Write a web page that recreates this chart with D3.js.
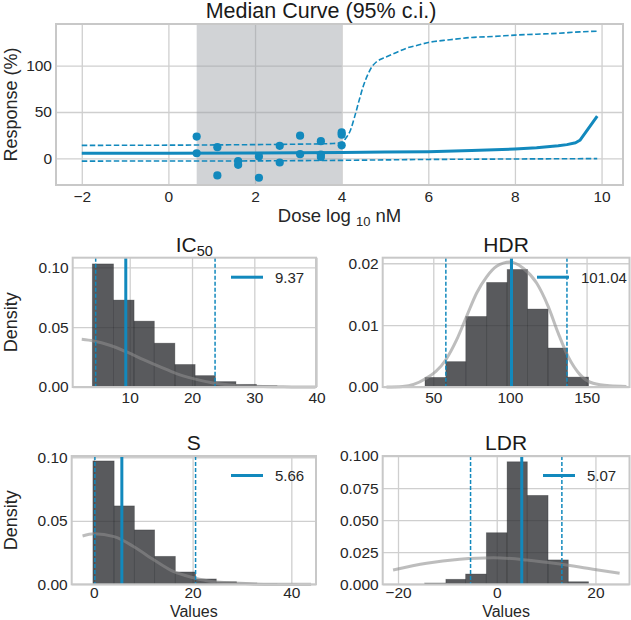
<!DOCTYPE html>
<html><head><meta charset="utf-8">
<script src="https://cdn.jsdelivr.net/npm/d3@7"></script>
<style>body{margin:0;background:#fff}svg{display:block;font-family:"Liberation Sans",Arial,Helvetica,sans-serif}</style>
</head><body><svg id="c" width="631" height="620"></svg>
<script>
// ---------- Top chart data ----------
const doseTicks = [-2, 0, 2, 4, 6, 8, 10];
const respTicks = [0, 50, 100];
const pointDose = [0.653, 0.653, 1.13, 1.13, 1.61, 1.61, 2.09, 2.09, 2.57, 2.57, 3.04, 3.04, 3.52, 3.52, 3.52, 4.0, 4.0, 4.0];
const pointResp = [23.5, 5.5, 12, -18.5, -3, -7, 2, -21, 13.5, -4.5, 24.5, 4.5, 18.5, 4, 1.5, 28, 25.5, 14];
const doseSpan = [0.653, 4.0];
const medianX = [-2, 0, 2, 4, 5, 6, 7, 8, 8.5, 9, 9.2, 9.4, 9.5, 9.9];
const medianY = [5.5, 5.6, 5.8, 6.2, 6.7, 7.2, 8.4, 10, 11.3, 13.5, 14.8, 16.8, 19.5, 45.5];
const upperX = [-2, 0, 2, 3, 3.8, 4.0, 4.1, 4.2, 4.3, 4.4, 4.5, 4.6, 4.7, 4.8, 4.9, 5.0, 5.25, 5.5, 5.75, 6, 6.5, 7, 7.5, 8, 8.5, 9, 9.5, 9.9];
const upperY = [14, 14.2, 14.8, 15.3, 16, 17, 22, 30, 45, 62, 78, 90, 99, 104, 107, 109, 114, 119, 122, 125, 128, 130.5, 131.5, 133, 134, 135, 136.5, 137.2];
const lowerX = [-2, 2, 4, 6, 8, 9.9];
const lowerY = [-3, -2.8, -2.2, -1.2, -0.7, -0.3];

// ---------- Histogram panels data ----------
const panelTitles = ["IC", "HDR", "S", "LDR"];
const ic50Ticks = [10, 20, 30, 40];
const ic50YTicks = [0, 0.05, 0.10];
const ic50Edges = [4.0, 7.4, 10.7, 13.95, 17.25, 20.5, 23.75, 27.05, 30.35, 33.65, 36.95];
const ic50Density = [0.1028, 0.0726, 0.055, 0.0366, 0.0188, 0.0095, 0.0045, 0.0022, 0.001, 0.0005];
const ic50KdeX = [2.3, 4.2, 6.8, 9.5, 12.2, 14.9, 17.5, 20.2, 23.4, 26.6, 29.8, 33.1, 36, 39.8];
const ic50KdeY = [0.0399, 0.0385, 0.0349, 0.0293, 0.0229, 0.0168, 0.0112, 0.007, 0.0034, 0.0014, 0.0006, 0.0002, 0.0001, 0.0];
const ic50Lines = [4.54, 9.37, 23.7];
const ic50Legend = "9.37";

const hdrTicks = [50, 100, 150];
const hdrYTicks = [0, 0.01, 0.02];
const hdrEdges = [44.6, 58.2, 71.2, 84.8, 98.2, 111.5, 124.9, 137.6, 151.3];
const hdrDensity = [0.00155, 0.0041, 0.0114, 0.0169, 0.019, 0.0126, 0.0063, 0.0016];
const hdrKdeX = [19.5, 30, 44.6, 58.2, 65.2, 71.7, 78.3, 84.8, 91.3, 100, 108.7, 117.4, 125, 131.5, 138, 145.7, 154.3, 165, 176];
const hdrKdeY = [0, 0.0001, 0.0013, 0.0044, 0.0076, 0.0114, 0.0152, 0.0178, 0.0195, 0.0202, 0.0192, 0.0168, 0.013, 0.0087, 0.0049, 0.002, 0.0006, 0.0002, 0.0001];
const hdrLines = [58.2, 101.04, 137.2];
const hdrLegend = "101.04";

const sTicks = [0, 20, 40];
const sYTicks = [0, 0.05, 0.10];
const sEdges = [-0.2, 4.1, 8.2, 12.3, 16.5, 20.6, 24.8, 28.9, 33.0, 37.1, 41.2];
const sDensity = [0.0971, 0.0617, 0.0428, 0.022, 0.0097, 0.0042, 0.002, 0.001, 0.0005, 0.0003];
const sKdeX = [-2.3, 0, 4.1, 8.1, 12.2, 16.2, 20.2, 24.3, 28.4, 32.5, 36, 40, 44];
const sKdeY = [0.038, 0.0397, 0.0375, 0.0296, 0.0191, 0.0099, 0.0052, 0.002, 0.001, 0.0003, 0.0001, 0, 0];
const sLines = [0.2, 5.66, 20.6];
const sLegend = "5.66";

const ldrTicks = [-20, 0, 20];
const ldrYTicks = [0, 0.025, 0.05, 0.075, 0.1];
const ldrEdges = [-14.6, -10.3, -6.3, -2.1, 2.1, 6.2, 10.4, 14.5, 18.6];
const ldrDensity = [0.001, 0.0039, 0.008, 0.0402, 0.0955, 0.0693, 0.019, 0.002];
const ldrKdeX = [-21, -14.2, -7.5, -0.7, 6, 12.8, 19.5, 24.9];
const ldrKdeY = [0.0111, 0.0164, 0.0195, 0.0207, 0.019, 0.0158, 0.0117, 0.0086];
const ldrLines = [-5.3, 5.07, 13.2];
const ldrLegend = "5.07";

// ---------- Styling ----------
const BLUE = "#1289bd";
const GRID = "#cfcfcf";
const FRAME = "#c8c8c8";
const TXT = "#262626";
const TICKFS = 15.5;
const minus = d => (d < 0 ? "\u2212" + Math.abs(d) : String(d));

const svg = d3.select("#c");
svg.append("rect").attr("width", 631).attr("height", 620).attr("fill", "#fff");

function grid(g, x, y, w, h, xt, yt) {
  g.append("g").attr("transform", `translate(0,${h})`)
    .call(d3.axisBottom(x).tickValues(xt).tickSize(-h).tickFormat(""))
    .call(s => { s.select(".domain").remove(); s.selectAll("line").attr("stroke", GRID).attr("stroke-width", 1.3); });
  g.append("g")
    .call(d3.axisLeft(y).tickValues(yt).tickSize(-w).tickFormat(""))
    .call(s => { s.select(".domain").remove(); s.selectAll("line").attr("stroke", GRID).attr("stroke-width", 1.3); });
}
function labels(g, x, y, h, xt, yt, xf, yf, xpad) {
  g.append("g").attr("transform", `translate(0,${h})`)
    .call(d3.axisBottom(x).tickValues(xt).tickSize(0).tickPadding(xpad).tickFormat(xf))
    .call(s => { s.select(".domain").remove(); s.selectAll("text").attr("font-size", TICKFS).attr("fill", TXT).attr("font-family", null); });
  g.append("g")
    .call(d3.axisLeft(y).tickValues(yt).tickSize(0).tickPadding(4).tickFormat(yf))
    .call(s => { s.select(".domain").remove(); s.selectAll("text").attr("font-size", TICKFS).attr("fill", TXT).attr("font-family", null); });
}
function frame(g, w, h) {
  g.append("rect").attr("x", 0).attr("y", 0).attr("width", w).attr("height", h)
    .attr("fill", "none").attr("stroke", FRAME).attr("stroke-width", 2);
}

// ---------- Top chart ----------
{
  const L = 56, R = 623, T = 24, B = 185;
  const w = R - L, h = B - T;
  const x = d3.scaleLinear().domain([-2.595, 10.495]).range([0, w]);
  const y = d3.scaleLinear().domain([-28.8, 145]).range([h, 0]);
  const g = svg.append("g").attr("transform", `translate(${L},${T})`);
  grid(g, x, y, w, h, doseTicks, respTicks);
  g.append("rect").attr("x", x(doseSpan[0])).attr("y", 0)
    .attr("width", x(doseSpan[1]) - x(doseSpan[0])).attr("height", h)
    .attr("fill", "#9a9ea4").attr("opacity", 0.45);
  const line = d3.line().x(d => x(d[0])).y(d => y(d[1]));
  g.append("path").datum(d3.zip(upperX, upperY)).attr("d", line.curve(d3.curveMonotoneX))
    .attr("fill", "none").attr("stroke", BLUE).attr("stroke-width", 1.6).attr("stroke-dasharray", "5.5,2.5");
  g.append("path").datum(d3.zip(lowerX, lowerY)).attr("d", line.curve(d3.curveLinear))
    .attr("fill", "none").attr("stroke", BLUE).attr("stroke-width", 1.6).attr("stroke-dasharray", "5.5,2.5");
  g.append("path").datum(d3.zip(medianX, medianY)).attr("d", line.curve(d3.curveLinear))
    .attr("fill", "none").attr("stroke", BLUE).attr("stroke-width", 3).attr("stroke-linejoin", "round");
  g.selectAll("circle.pt").data(d3.zip(pointDose, pointResp)).join("circle")
    .attr("cx", d => x(d[0])).attr("cy", d => y(d[1])).attr("r", 4.1).attr("fill", BLUE);
  frame(g, w, h);
  labels(g, x, y, h, doseTicks, respTicks, minus, d => String(d), 6);
  svg.append("text").attr("x", 321).attr("y", 18).attr("text-anchor", "middle")
    .attr("font-size", 21.5).attr("fill", "#1a1a1a").text("Median Curve (95% c.i.)");
  const xl = svg.append("text").attr("x", L + w / 2).attr("y", 222).attr("text-anchor", "middle")
    .attr("font-size", 18.5).attr("fill", TXT);
  xl.append("tspan").text("Dose log ");
  xl.append("tspan").attr("font-size", 13).attr("dy", 4).text("10");
  xl.append("tspan").attr("dy", -4).text(" nM");
  svg.append("text").attr("transform", `translate(16.5,${T + h / 2}) rotate(-90)`).attr("text-anchor", "middle")
    .attr("font-size", 18).attr("fill", TXT).text("Response (%)");
}

// ---------- Histogram panels ----------
const panels = [
  { title: panelTitles[0], sub: "50", box: [72.7, 316, 257.7, 387], xd: [0.85, 39.9], yd: [0, 0.108],
    xt: ic50Ticks, yt: ic50YTicks, yf: d3.format(".2f"), edges: ic50Edges, dens: ic50Density,
    kx: ic50KdeX, ky: ic50KdeY, vl: ic50Lines, leg: ic50Legend, legX: 231, ylabel: true, xlabel: false },
  { title: panelTitles[1], sub: null, box: [382.7, 629.5, 257.7, 387], xd: [17, 178], yd: [0, 0.0209],
    xt: hdrTicks, yt: hdrYTicks, yf: d3.format(".2f"), edges: hdrEdges, dens: hdrDensity,
    kx: hdrKdeX, ky: hdrKdeY, vl: hdrLines, leg: hdrLegend, legX: 537, ylabel: false, xlabel: false },
  { title: panelTitles[2], sub: null, box: [71.7, 316, 456, 584.3], xd: [-4.5, 45.0], yd: [0, 0.101],
    xt: sTicks, yt: sYTicks, yf: d3.format(".2f"), edges: sEdges, dens: sDensity,
    kx: sKdeX, ky: sKdeY, vl: sLines, leg: sLegend, legX: 231, ylabel: true, xlabel: true },
  { title: panelTitles[3], sub: null, box: [382.7, 629.5, 456, 584.3], xd: [-23.1, 26.9], yd: [0, 0.1],
    xt: ldrTicks, yt: ldrYTicks, yf: d3.format(".3f"), edges: ldrEdges, dens: ldrDensity,
    kx: ldrKdeX, ky: ldrKdeY, vl: ldrLines, leg: ldrLegend, legX: 543, ylabel: false, xlabel: true }
];

panels.forEach(p => {
  const [L, R, T, B] = p.box;
  const w = R - L, h = B - T;
  const x = d3.scaleLinear().domain(p.xd).range([0, w]);
  const y = d3.scaleLinear().domain(p.yd).range([h, 0]);
  const g = svg.append("g").attr("transform", `translate(${L},${T})`);
  grid(g, x, y, w, h, p.xt, p.yt);
  const bins = p.dens.map((d, i) => ({ x0: p.edges[i], x1: p.edges[i + 1], d }));
  g.selectAll("rect.bar").data(bins).join("rect")
    .attr("x", b => x(b.x0)).attr("width", b => x(b.x1) - x(b.x0))
    .attr("y", b => y(b.d)).attr("height", b => y(0) - y(b.d))
    .attr("fill", "#2a2b2f").attr("fill-opacity", 0.78)
    .attr("stroke", "#1e1f22").attr("stroke-opacity", 0.35).attr("stroke-width", 0.8);
  g.append("path").datum(d3.zip(p.kx, p.ky))
    .attr("d", d3.line().x(d => x(d[0])).y(d => y(d[1])).curve(d3.curveMonotoneX))
    .attr("fill", "none").attr("stroke", "#8e8e8e").attr("stroke-opacity", 0.58).attr("stroke-width", 3);
  p.vl.forEach((v, i) => {
    g.append("line").attr("x1", x(v)).attr("x2", x(v)).attr("y1", 0).attr("y2", h)
      .attr("stroke", BLUE).attr("stroke-width", i === 1 ? 3 : 1.5)
      .attr("stroke-dasharray", i === 1 ? null : "4,2");
  });
  frame(g, w, h);
  labels(g, x, y, h, p.xt, p.yt, minus, p.yf, p.xlabel ? 3 : 5);
  // legend
  const ly = T + 19.5;
  svg.append("line").attr("x1", p.legX).attr("x2", p.legX + 32).attr("y1", ly).attr("y2", ly)
    .attr("stroke", BLUE).attr("stroke-width", 3);
  svg.append("text").attr("x", p.legX + 44).attr("y", ly + 5.5).attr("font-size", 15)
    .attr("fill", TXT).text(p.leg);
  // title
  const t = svg.append("text").attr("x", L + w / 2).attr("y", T - 6).attr("text-anchor", "middle")
    .attr("font-size", 21).attr("fill", "#1a1a1a");
  t.append("tspan").text(p.title);
  if (p.sub) t.append("tspan").attr("font-size", 14.5).attr("dy", 4).text(p.sub);
  if (p.ylabel) {
    svg.append("text").attr("transform", `translate(16.5,${T + h / 2}) rotate(-90)`).attr("text-anchor", "middle")
      .attr("font-size", 18).attr("fill", TXT).text("Density");
  }
  if (p.xlabel) {
    svg.append("text").attr("x", L + w / 2).attr("y", 616.5).attr("text-anchor", "middle")
      .attr("font-size", 16).attr("fill", TXT).text("Values");
  }
});
</script></body></html>
